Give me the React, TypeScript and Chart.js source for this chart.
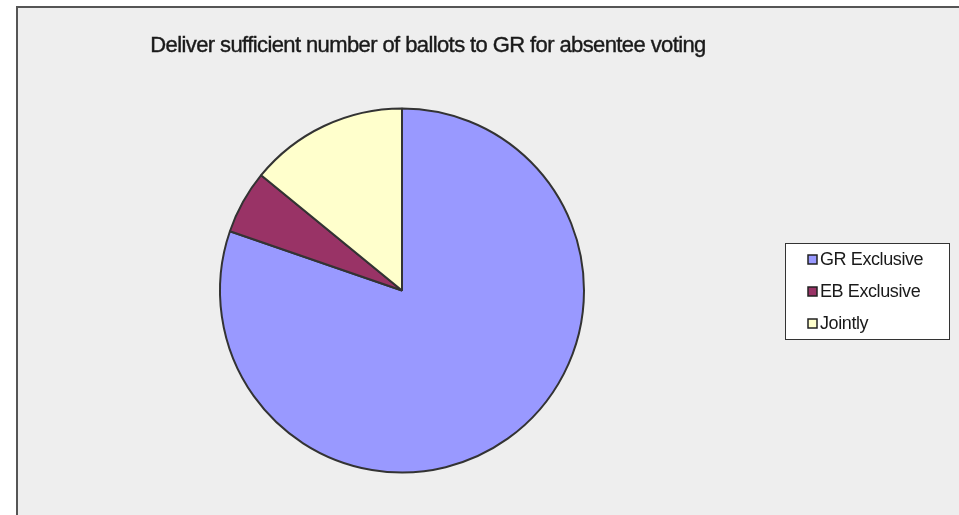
import React, { useEffect, useRef } from "react";
import { Chart, registerables } from "chart.js";

Chart.register(...registerables);

const titleText = "Deliver sufficient number of ballots to GR for absentee voting";
const categories = ["GR Exclusive", "EB Exclusive", "Jointly"];
const values = [57, 4, 10];
const colors = ["#9999FF", "#993366", "#FFFFCC"];

const FONT = '"Liberation Sans", Arial, sans-serif';

const framePlugin = {
  id: "frame",
  beforeDraw(chart: any) {
    const ctx = chart.ctx;
    ctx.save();
    ctx.fillStyle = "#ffffff";
    ctx.fillRect(0, 0, chart.width, chart.height);
    ctx.fillStyle = "#EEEEEE";
    ctx.fillRect(16, 6, chart.width, chart.height);
    ctx.strokeStyle = "#555555";
    ctx.lineWidth = 2;
    ctx.beginPath();
    ctx.moveTo(17, chart.height + 2);
    ctx.lineTo(17, 7);
    ctx.lineTo(chart.width + 2, 7);
    ctx.stroke();
    ctx.restore();
  },
  afterDraw(chart: any) {
    const ctx = chart.ctx;
    ctx.save();
    // title
    ctx.fillStyle = "#1a1a1a";
    ctx.strokeStyle = "#1a1a1a";
    ctx.lineWidth = 0.4;
    ctx.font = `22px ${FONT}`;
    (ctx as any).letterSpacing = "-0.6px";
    ctx.textAlign = "center";
    ctx.textBaseline = "middle";
    ctx.fillText(titleText, 428, 46, 560);
    ctx.strokeText(titleText, 428, 46, 560);
    // legend box
    const bx = 785, by = 243, bw = 164, bh = 96;
    ctx.fillStyle = "#ffffff";
    ctx.fillRect(bx, by, bw, bh);
    ctx.strokeStyle = "#333333";
    ctx.lineWidth = 1;
    ctx.strokeRect(bx + 0.5, by + 0.5, bw, bh);
    ctx.font = `18px ${FONT}`;
    (ctx as any).letterSpacing = "-0.4px";
    ctx.textAlign = "left";
    categories.forEach((c, i) => {
      const y = 259 + i * 32;
      ctx.fillStyle = colors[i];
      ctx.fillRect(808, y - 4, 9, 9);
      ctx.strokeStyle = "#222222";
      ctx.lineWidth = 1.5;
      ctx.strokeRect(808, y - 4, 9, 9);
      ctx.fillStyle = "#1a1a1a";
      ctx.fillText(c, 820, y + 1, 107);
    });
    ctx.restore();
  },
};

export default function App() {
  const ref = useRef<HTMLCanvasElement>(null);
  useEffect(() => {
    const chart = new Chart(ref.current!, {
      type: "pie",
      data: {
        labels: categories,
        datasets: [
          {
            data: values,
            backgroundColor: colors,
            borderColor: "#333333",
            borderWidth: 2,
          },
        ],
      },
      options: {
        animation: false,
        responsive: false,
        layout: { padding: { left: 219, right: 374, top: 107, bottom: 41 } },
        plugins: {
          legend: { display: false },
          title: { display: false },
          tooltip: { enabled: false },
        },
      },
      plugins: [framePlugin],
    });
    return () => chart.destroy();
  }, []);
  return (
    <div style={{ position: "fixed", left: 0, top: 0, width: 959, height: 515 }}>
      <canvas ref={ref} width={959} height={515} style={{ display: "block" }} />
    </div>
  );
}
